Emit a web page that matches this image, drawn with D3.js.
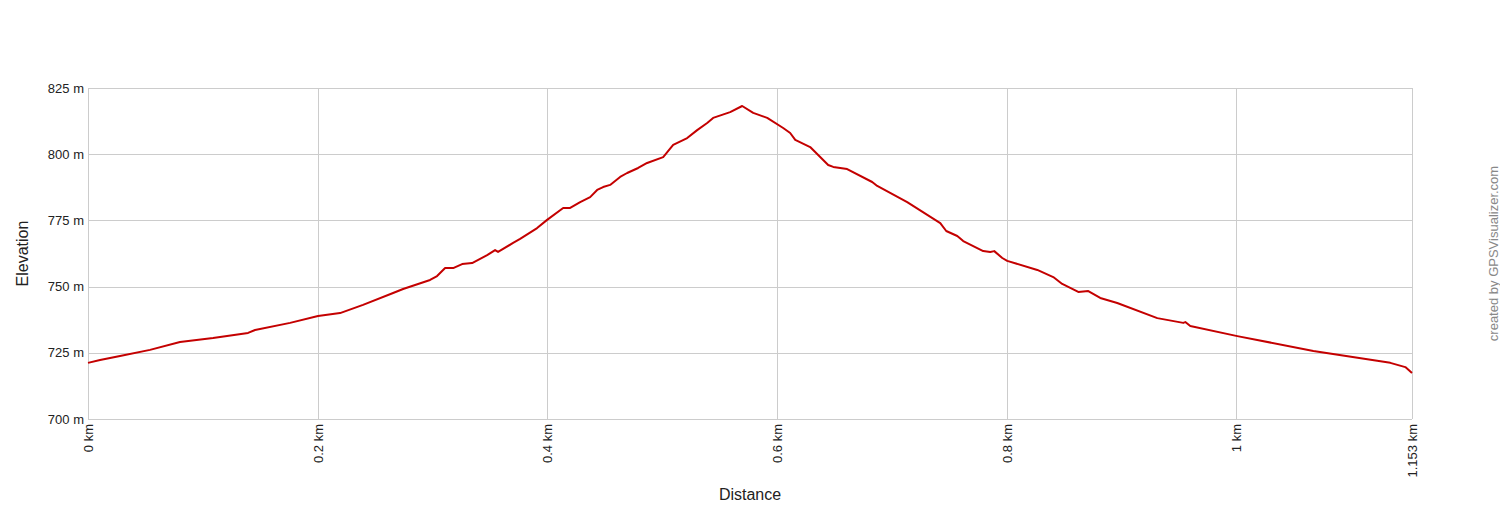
<!DOCTYPE html>
<meta charset="utf-8">
<script src="https://d3js.org/d3.v7.min.js"></script>
<style>
  body { margin: 0; background: #fff; }
  text { font-family: "Liberation Sans", Arial, sans-serif; }
  .axis path { display: none; }
  .axis line { stroke: #cccccc; shape-rendering: crispEdges; }
  .axis text { font-size: 13px; fill: #222; }
</style>
<div id="chart"></div>
<script>

// distance (km) along the track
var distance = [0, 0.0105, 0.0279, 0.054, 0.0801, 0.1089, 0.1394, 0.1455, 0.176, 0.2003,
  0.2195, 0.2395, 0.2657, 0.2744, 0.2979, 0.304, 0.311, 0.318, 0.3258, 0.3345,
  0.3476, 0.3545, 0.3571, 0.3702, 0.3763, 0.3911, 0.3998, 0.4138, 0.4199, 0.4286,
  0.4373, 0.4434, 0.4486, 0.4547, 0.4634, 0.4695, 0.4791, 0.4869, 0.5009, 0.5096,
  0.5218, 0.5305, 0.5392, 0.5444, 0.5592, 0.5697, 0.5793, 0.5915, 0.6054, 0.6115,
  0.6159, 0.6289, 0.6446, 0.649, 0.6611, 0.6829, 0.6873, 0.7134, 0.7422, 0.7474,
  0.757, 0.7622, 0.7796, 0.7857, 0.7892, 0.7962, 0.8005, 0.8267, 0.8406, 0.8484,
  0.8624, 0.8711, 0.8815, 0.8963, 0.9312, 0.9538, 0.9556, 0.9599, 1.0009, 1.0671,
  1.1341, 1.1472, 1.153];

// elevation (m)
var elevation = [721.2, 722.3, 723.8, 726.1, 729.1, 730.6, 732.5, 733.6, 736.3, 738.9,
  740.0, 743.1, 747.6, 749.1, 752.5, 754.0, 757.0, 757.0, 758.5, 758.9,
  761.9, 763.8, 763.1, 766.5, 768.0, 772.1, 775.2, 779.7, 779.7, 781.9,
  783.8, 786.5, 787.6, 788.4, 791.4, 792.9, 794.8, 796.7, 798.9, 803.5,
  806.1, 809.1, 811.8, 813.7, 815.9, 818.2, 815.6, 813.7, 809.9, 808.0,
  805.4, 802.7, 795.9, 795.2, 794.4, 789.5, 788.0, 781.9, 774.0, 771.0,
  769.1, 767.2, 763.4, 763.1, 763.4, 760.8, 759.7, 756.3, 753.6, 751.0,
  748.0, 748.3, 745.7, 743.8, 738.1, 736.3, 736.6, 735.1, 731.3, 725.7,
  721.2, 719.6, 717.4];

var xTicks = [0, 0.2, 0.4, 0.6, 0.8, 1, 1.153];
var xTickLabels = ["0 km", "0.2 km", "0.4 km", "0.6 km", "0.8 km", "1 km", "1.153 km"];
var yTicks = [700, 725, 750, 775, 800, 825];

var margin = {top: 88, right: 88, bottom: 88, left: 88},
    width = 1500 - margin.left - margin.right,
    height = 507 - margin.top - margin.bottom;

var svg = d3.select("#chart")
  .append("svg")
    .attr("width", 1500)
    .attr("height", 507)
  .append("g")
    .attr("transform", "translate(" + margin.left + "," + margin.top + ")");

var x = d3.scaleLinear().domain([0, 1.153]).range([0, width]);
var y = d3.scaleLinear().domain([700, 825]).range([height, 0]);

// horizontal grid + labels
svg.append("g")
    .attr("class", "axis")
    .call(d3.axisLeft(y).tickValues(yTicks).tickSize(-width).tickPadding(4)
      .tickFormat(function(d) { return d + " m"; }));

// vertical grid + rotated labels
var xAxis = svg.append("g")
    .attr("class", "axis")
    .attr("transform", "translate(0," + height + ")")
    .call(d3.axisBottom(x).tickValues(xTicks).tickSize(-height)
      .tickFormat(function(d, i) { return xTickLabels[i]; }));
xAxis.selectAll("text")
    .attr("transform", "rotate(-90)")
    .attr("text-anchor", "end")
    .attr("x", -5)
    .attr("y", 0)
    .attr("dy", "0.35em");

// left border
svg.append("line")
    .attr("x1", 0).attr("x2", 0).attr("y1", 0).attr("y2", height)
    .attr("stroke", "#cccccc").attr("shape-rendering", "crispEdges");

// elevation line
var line = d3.line()
    .x(function(d, i) { return x(distance[i]); })
    .y(function(d) { return y(d); });

svg.append("path")
    .datum(elevation)
    .attr("fill", "none")
    .attr("stroke", "#c40000")
    .attr("stroke-width", 2)
    .attr("stroke-linejoin", "round")
    .attr("d", line);

// axis titles
svg.append("text")
    .attr("x", width / 2)
    .attr("y", height + 81)
    .attr("text-anchor", "middle")
    .style("font-size", "16px")
    .style("fill", "#222")
    .text("Distance");

svg.append("text")
    .attr("transform", "translate(-60," + (height / 2) + ") rotate(-90)")
    .attr("text-anchor", "middle")
    .style("font-size", "16px")
    .style("fill", "#222")
    .text("Elevation");

svg.append("text")
    .attr("transform", "translate(" + (width + 86) + "," + (height / 2) + ") rotate(-90)")
    .attr("text-anchor", "middle")
    .style("font-size", "13px")
    .style("fill", "#888")
    .text("created by GPSVisualizer.com");

</script>
